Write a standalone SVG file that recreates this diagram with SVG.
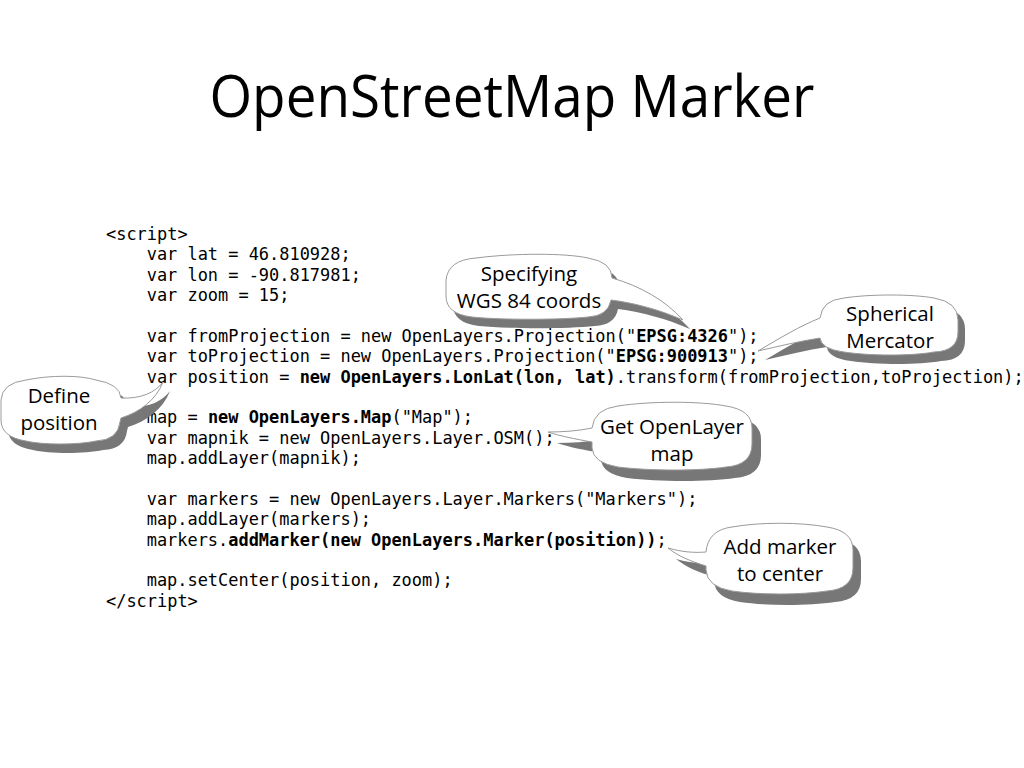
<svg xmlns="http://www.w3.org/2000/svg" width="1024" height="768" viewBox="0 0 1024 768">
<style>
.title{font-family:"Open Sans","Liberation Sans",sans-serif;font-size:58px;fill:#000;text-anchor:middle}
.code{font-family:"DejaVu Sans Mono","Liberation Mono",monospace;font-size:16.95px;fill:#000;white-space:pre}
.b{font-weight:bold}
.shadow{fill:#777}
.bubble{fill:#fff;stroke:#9a9a9a;stroke-width:1}
.lbl{font-family:"Open Sans","Liberation Sans",sans-serif;font-size:20.5px;fill:#000;text-anchor:middle}
</style>
<rect width="1024" height="768" fill="#fff"/>
<text class="title" x="512" y="117" textLength="605" lengthAdjust="spacingAndGlyphs">OpenStreetMap Marker</text>

<g id="code" class="code" xml:space="preserve">
<text x="106" y="240">&lt;script&gt;</text>
<text x="146.7" y="260.4">var lat = 46.810928;</text>
<text x="146.7" y="280.7">var lon = -90.817981;</text>
<text x="146.7" y="301.1">var zoom = 15;</text>
<text x="146.7" y="341.8">var fromProjection = new OpenLayers.Projection("<tspan class="b">EPSG:4326</tspan>");</text>
<text x="146.7" y="362.2">var toProjection = new OpenLayers.Projection("<tspan class="b">EPSG:900913</tspan>");</text>
<text x="146.7" y="382.6">var position = <tspan class="b">new OpenLayers.LonLat(lon, lat)</tspan>.transform(fromProjection,toProjection);</text>
<text x="146.7" y="423.3">map = <tspan class="b">new OpenLayers.Map</tspan>("Map");</text>
<text x="146.7" y="443.7">var mapnik = new OpenLayers.Layer.OSM();</text>
<text x="146.7" y="464.1">map.addLayer(mapnik);</text>
<text x="146.7" y="504.8">var markers = new OpenLayers.Layer.Markers("Markers");</text>
<text x="146.7" y="525.2">map.addLayer(markers);</text>
<text x="146.7" y="545.6">markers.<tspan class="b">addMarker(new OpenLayers.Marker(position))</tspan>;</text>
<text x="146.7" y="586.3">map.setCenter(position, zoom);</text>
<text x="106" y="606.7">&lt;/script&gt;</text>
</g>

<defs>
<path id="p1" d="M 476,258 C 515,253 565,253 588,258 Q 612,262 612,278 C 640,286 665,300 683,320 C 660,310 635,303 611,300 Q 608,316 588,317 C 560,320 500,320 472,317 Q 446,314 446,296 L 446,280 Q 448,260 476,258 Z"/>
<path id="p2" d="M 844,298 C 870,294 912,294 934,298 Q 958,302 958,320 L 958,332 Q 958,351 934,352 C 912,356 870,356 844,352 Q 821,349 820,338 C 800,341 780,346 758,351 C 780,338 800,326 820,318 Q 822,300 844,298 Z"/>
<path id="p3" d="M 26,380 C 50,375 80,375 96,380 Q 120,384 121,398 C 140,399 155,393 163,382 C 156,400 140,412 121,418 L 120,422 Q 118,440 96,441 C 78,445 42,445 26,441 Q 1,437 1,420 L 1,400 Q 2,383 26,380 Z"/>
<path id="p4" d="M 618,406 C 650,401 700,401 726,406 Q 752,410 752,428 L 752,444 Q 752,465 726,467 C 700,471 650,471 618,467 Q 593,463 592,448 L 592,442 C 575,439 560,436 548,432 C 562,432 578,431 592,428 Q 594,409 618,406 Z"/>
<path id="p5" d="M 732,527 C 760,522 800,522 827,527 Q 853,531 853,550 L 853,568 Q 853,589 827,591 C 800,595 760,595 732,591 Q 707,587 706,570 L 706,566 C 690,561 678,556 668,548 C 682,552 694,553 706,552 Q 708,530 732,527 Z"/>
</defs>

<g id="callout-wgs84">
<use href="#p1" class="shadow" transform="translate(7,9)"/>
<use href="#p1" class="bubble"/>
<text class="lbl" x="529" y="281">Specifying</text>
<text class="lbl" x="529" y="308">WGS 84 coords</text>
</g>

<g id="callout-mercator">
<use href="#p2" class="shadow" transform="translate(7,9)"/>
<use href="#p2" class="bubble"/>
<text class="lbl" x="890" y="321">Spherical</text>
<text class="lbl" x="890" y="348">Mercator</text>
</g>

<g id="callout-define">
<use href="#p3" class="shadow" transform="translate(7,9)"/>
<use href="#p3" class="bubble"/>
<text class="lbl" x="59" y="403">Define</text>
<text class="lbl" x="59" y="430">position</text>
</g>

<g id="callout-map">
<use href="#p4" class="shadow" transform="translate(9,11)"/>
<use href="#p4" class="bubble"/>
<text class="lbl" x="672" y="434">Get OpenLayer</text>
<text class="lbl" x="672" y="461">map</text>
</g>

<g id="callout-marker">
<use href="#p5" class="shadow" transform="translate(8,11)"/>
<use href="#p5" class="bubble"/>
<text class="lbl" x="780" y="554">Add marker</text>
<text class="lbl" x="780" y="581">to center</text>
</g>
</svg>
